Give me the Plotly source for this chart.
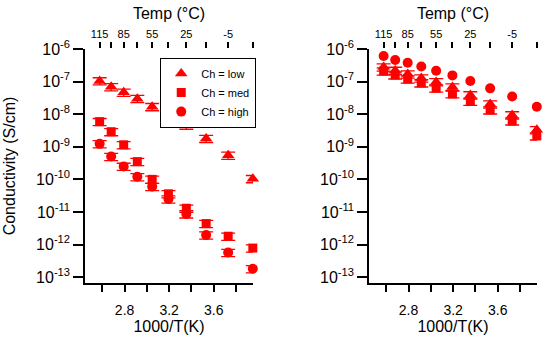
import plotly.graph_objects as go

# ---- data ----
temps_c = [115, 100, 85, 70, 55, 40, 25, 10, -5, -20]
top_major_temps = [115, 85, 55, 25, -5]
top_minor_temps = [100, 70, 40, 10, -20]

left_low = [1.05e-7, 6.9e-8, 4.7e-8, 3.0e-8, 1.7e-8, 9.5e-9, 4.6e-9, 1.8e-9, 5.5e-10, 1.05e-10]
left_med = [5.9e-9, 2.9e-9, 1.15e-9, 3.5e-10, 1.0e-10, 3.6e-11, 1.3e-11, 4.4e-12, 1.8e-12, 7.8e-13]
left_high = [1.23e-9, 5.0e-10, 2.5e-10, 1.2e-10, 6.0e-11, 2.5e-11, 8.7e-12, 1.95e-12, 5.7e-13, 1.8e-13]

right_low = [2.8e-7, 2.2e-7, 1.7e-7, 1.28e-7, 9.8e-8, 6.8e-8, 3.9e-8, 2.05e-8, 9.5e-9, 3.3e-9]
right_med = [2.1e-7, 1.6e-7, 1.2e-7, 9.1e-8, 6.3e-8, 4.2e-8, 2.5e-8, 1.35e-8, 6.2e-9, 2.15e-9]
right_high = [6.1e-7, 4.6e-7, 3.8e-7, 2.9e-7, 2.15e-7, 1.55e-7, 1.04e-7, 6.2e-8, 3.5e-8, 1.7e-8]

bottom_tickvals = [2.8, 3.2, 3.6]
bottom_ticktext = ["2.8", "3.2", "3.6"]
y_exponents = [-6, -7, -8, -9, -10, -11, -12, -13]

def inv(t):
    return 1000.0 / (t + 273.15)

inv_t = [inv(t) for t in temps_c]

RED = "#ff0000"
FONT = "Liberation Sans, Arial, sans-serif"

def err(on=True):
    if not on:
        return dict(visible=False)
    return dict(type="percent", value=25, color=RED, thickness=1.3, width=7)

fig = go.Figure()
series = [
    ("Ch = low", "triangle-up", 11, left_low, right_low, True),
    ("Ch = med", "square", 9, left_med, right_med, True),
    ("Ch = high", "circle", 10, left_high, right_high, False),
]
for name, sym, size, lv, rv, right_err in series:
    fig.add_trace(go.Scatter(x=inv_t, y=lv, mode="markers", name=name, cliponaxis=False,
                             marker=dict(symbol=sym, size=size, color=RED),
                             error_y=err(True), xaxis="x", yaxis="y"))
for name, sym, size, lv, rv, right_err in series:
    fig.add_trace(go.Scatter(x=inv_t, y=rv, mode="markers", name=name, showlegend=False,
                             cliponaxis=False,
                             marker=dict(symbol=sym, size=size, color=RED),
                             error_y=err(right_err), xaxis="x2", yaxis="y2"))

# empty helper traces so the top (temperature) axes are drawn
for xa, ya in (("x3", "y"), ("x4", "y2")):
    fig.add_trace(go.Scatter(x=inv_t, y=[None] * len(inv_t), mode="markers", showlegend=False,
                             hoverinfo="skip", xaxis=xa, yaxis=ya))

xr = [2.445, 3.952]
yr = [-13.18, -6]
ytext = ["10<sup>%d</sup>" % e for e in y_exponents]
yvals = [10.0 ** e for e in y_exponents]

common_x = dict(range=xr, showgrid=False, zeroline=False, showline=True, linecolor="black",
                linewidth=1.5, ticks="outside", ticklen=7, tickwidth=1.5, tickcolor="black",
                tickmode="array", tickvals=bottom_tickvals, ticktext=bottom_ticktext,
                ticklabelstandoff=6,
                minor=dict(ticks="outside", ticklen=7, tickwidth=1.5, tickcolor="black",
                           tick0=2.6, dtick=0.2, showgrid=False),
                tickfont=dict(size=14, color="black", family=FONT),
                title=dict(text="1000/T(K)", font=dict(size=16, color="black", family=FONT), standoff=4),
                automargin=False)
common_top = dict(range=xr, showgrid=False, zeroline=False, showline=False, side="top",
                  ticks="outside", ticklen=6, tickwidth=1.5, tickcolor="black",
                  tickmode="array", tickvals=[inv(t) for t in top_major_temps],
                  ticktext=[str(t) for t in top_major_temps],
                  minor=dict(ticks="outside", ticklen=6, tickwidth=1.5, tickcolor="black",
                             tickmode="array", tickvals=[inv(t) for t in top_minor_temps],
                             showgrid=False),
                  tickfont=dict(size=11, color="black", family=FONT),
                  title=dict(text="Temp (°C)", font=dict(size=16, color="black", family=FONT), standoff=3),
                  automargin=False)
common_y = dict(type="log", range=yr, showgrid=False, zeroline=False, showline=True,
                linecolor="black", linewidth=1.5, ticks="outside", ticklen=10, tickwidth=1.5,
                tickcolor="black", tickmode="array", tickvals=yvals, ticktext=ytext,
                tickfont=dict(size=16, color="black", family=FONT), automargin=False)

L_DOM = [0.0, 0.3717]
R_DOM = [0.6283, 1.0]

fig.update_layout(
    width=550, height=344,
    margin=dict(l=85, r=13, t=49, b=61),
    paper_bgcolor="white", plot_bgcolor="white",
    font=dict(family=FONT, color="black"),
    xaxis=dict(domain=L_DOM, anchor="y", **common_x),
    xaxis2=dict(domain=R_DOM, anchor="y2", **common_x),
    xaxis3=dict(overlaying="x", anchor="y", **common_top),
    xaxis4=dict(overlaying="x2", anchor="y2", **common_top),
    yaxis=dict(domain=[0, 1], anchor="x",
               title=dict(text="Conductivity (S/cm)", font=dict(size=16, color="black", family=FONT), standoff=16),
               **common_y),
    yaxis2=dict(domain=[0, 1], anchor="x2", **common_y),
    legend=dict(x=0.166, y=0.962, xanchor="left", yanchor="top", bordercolor="black",
                borderwidth=1.2, bgcolor="white", font=dict(size=11, color="black", family=FONT),
                tracegroupgap=0, itemsizing="trace"),
    showlegend=True,
)

fig.write_html("out.html", config={"displayModeBar": False},
               post_script="document.body.style.margin='0';")
